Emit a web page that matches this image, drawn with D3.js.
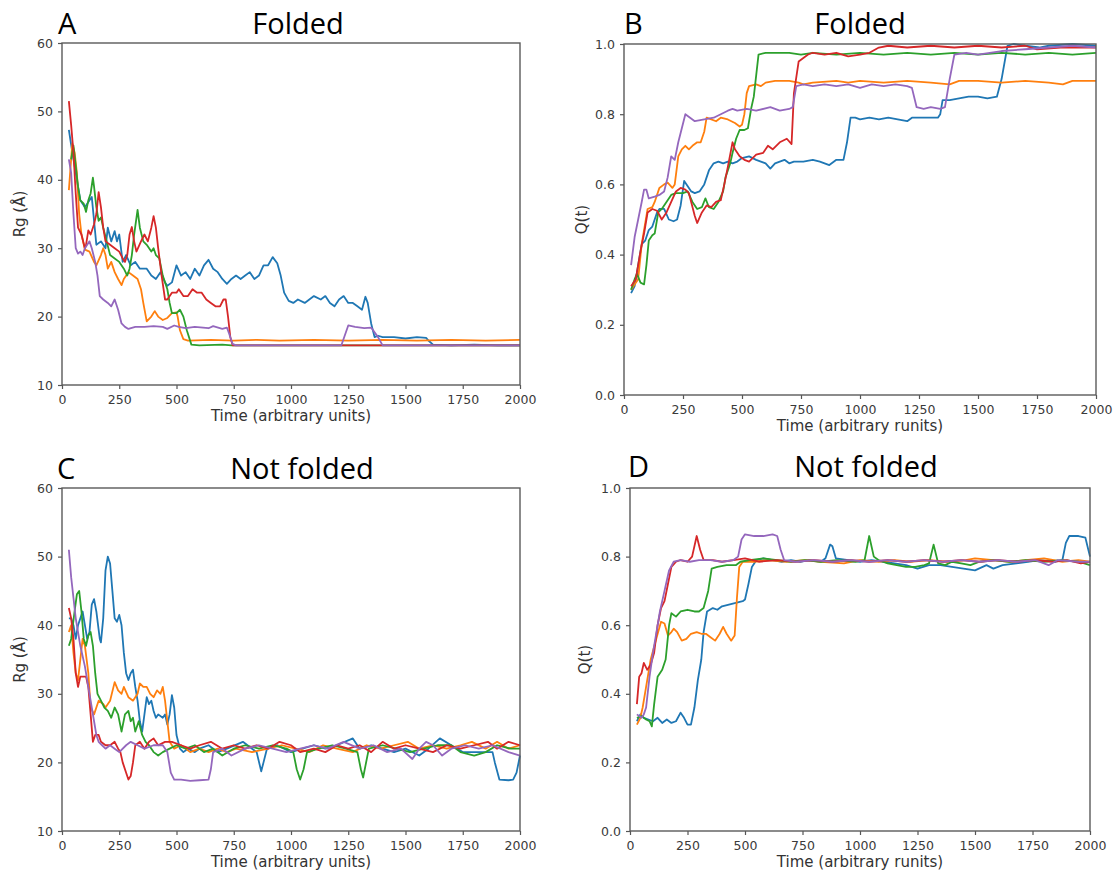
<!DOCTYPE html>
<html>
<head>
<meta charset="utf-8">
<script src="https://cdn.jsdelivr.net/npm/d3@7"></script>
<style>
  body { margin: 0; background: #fff; }
  .tick text { font-family: "DejaVu Sans", sans-serif; font-size: 12.5px; fill: #3a3a3a; }
  .tick line { stroke: #555; stroke-width: 1.2; }
  .domain { display: none; }
  .axis-label { font-family: "DejaVu Sans", sans-serif; font-size: 15px; fill: #333; }
  .panel-title { font-family: "Open Sans", "Noto Sans", sans-serif; font-size: 29px; fill: #000; }
  .line { fill: none; stroke-width: 1.8; stroke-linejoin: round; }
</style>
</head>
<body>
<div id="chart"></div>
<script>
// Window size
var svgWidth = 1115;
var svgHeight = 873;

// matplotlib "tab10" colours used for the five runs
var runColors = ["#1f77b4", "#ff7f0e", "#2ca02c", "#d62728", "#9467bd"];

// Axis ticks
var timeTicks = [0, 250, 500, 750, 1000, 1250, 1500, 1750, 2000];
var rgTicks = [10, 20, 30, 40, 50, 60];
var qTicks = [0.0, 0.2, 0.4, 0.6, 0.8, 1.0];

// ---------- Panel A: Rg, folded runs  [time, Rg] ----------
var foldedRgBlue = [[30,47.3],[45,44],[60,41],[80,37],[100,36],[120,37],[130,37.5],[150,30.5],[170,31],[190,30],[200,33],[215,31],[230,32.5],[240,31],[250,32],[265,28],[280,29],[300,27.5],[320,28],[340,27],[370,27],[390,26],[410,25.5],[430,26.5],[450,25],[460,24.5],[480,25],[500,27.5],[520,26],[540,26.5],[560,25.5],[580,27],[600,26],[620,27.5],[640,28.3],[660,27],[680,26.5],[700,25.5],[720,24.8],[740,25.5],[760,26],[780,25.5],[800,26],[820,26.5],[840,25.5],[860,26],[880,27.5],[900,27.5],[920,28.7],[940,27.8],[955,26],[970,23.5],[990,22.3],[1010,22],[1030,22.5],[1060,22],[1080,22.5],[1100,23],[1130,22.5],[1150,23],[1170,22],[1190,21.5],[1210,22.5],[1230,23],[1250,22],[1270,22],[1290,21.5],[1310,21],[1325,22.9],[1335,22],[1350,19],[1365,17],[1380,17.2],[1400,17],[1450,17],[1500,16.8],[1550,17],[1590,16.9],[1600,16.5],[1620,15.9],[1700,15.8],[1800,15.9],[1900,15.8],[2000,15.8]];
var foldedRgOrange = [[30,38.5],[45,45.3],[55,44],[65,41],[75,35],[85,32],[100,29.8],[120,29.5],[140,28],[150,27.5],[170,29],[180,30],[190,29],[200,27],[215,28],[230,26.5],[245,25.5],[260,24.6],[270,25.5],[290,26.5],[310,26],[330,25.5],[345,24],[355,22],[370,19.3],[390,20],[405,20.8],[420,20],[440,19.5],[460,19.8],[480,20.5],[500,20.6],[505,20],[515,18],[530,16.7],[550,16.5],[650,16.6],[750,16.5],[850,16.6],[950,16.5],[1100,16.6],[1250,16.5],[1400,16.6],[1550,16.5],[1700,16.6],[1850,16.5],[2000,16.6]];
var foldedRgGreen = [[40,43],[50,45],[60,42],[70,39],[80,37],[95,36.5],[105,35.3],[115,37],[125,38],[135,40.3],[140,39],[150,36],[160,34],[170,34.5],[180,33],[195,31],[210,29],[230,28.5],[250,28],[270,27],[285,26],[295,27],[305,29],[315,32],[330,35.6],[340,33],[355,31],[370,30.5],[390,29.5],[400,30],[410,29],[425,28.5],[440,26],[460,24],[470,22],[480,20.5],[500,20.5],[515,21],[530,20],[545,18],[565,15.9],[600,15.8],[700,15.9],[740,15.8],[900,15.8],[1200,15.8],[1500,15.8],[2000,15.8]];
var foldedRgRed = [[30,51.5],[40,48],[50,44],[60,38],[70,33],[85,32],[100,30],[105,30.5],[115,32.6],[125,32],[140,33.5],[150,35],[160,38.2],[170,36],[180,33],[190,31],[210,30.5],[230,30],[250,29.5],[265,28.5],[275,28],[285,29],[295,32],[305,33.1],[315,31],[325,29.5],[345,31],[360,32],[375,31],[390,33],[400,34.7],[410,33],[420,30],[435,26],[450,22.5],[460,22.5],[480,23.5],[500,23.5],[510,24],[530,23],[550,23],[570,24],[590,23.5],[610,23.5],[630,22.5],[650,22],[670,21.5],[690,21.5],[705,22.5],[715,22.5],[725,20],[735,17],[745,15.8],[900,15.8],[1200,15.8],[1500,15.8],[2000,15.8]];
var foldedRgPurple = [[30,43],[40,41],[50,35],[60,30],[70,29.2],[80,29.5],[90,29],[100,30],[110,30.5],[120,31],[130,30],[145,28],[155,26],[165,23],[180,22.5],[200,22],[215,21.5],[230,22.5],[245,21],[260,19],[275,18.5],[290,18.2],[320,18.5],[360,18.5],[400,18.6],[440,18.5],[460,18.2],[490,18.7],[510,18.5],[540,18.3],[580,18.5],[640,18.3],[660,18.6],[700,18.2],[720,18.4],[730,17.5],[745,16],[760,15.8],[1000,15.8],[1220,15.8],[1250,18.7],[1280,18.5],[1320,18.3],[1350,18.4],[1380,17],[1400,15.8],[1700,15.8],[2000,15.8]];

// ---------- Panel B: Q(t), folded runs ----------
var foldedQBlue = [[30,0.29],[45,0.31],[55,0.35],[75,0.43],[90,0.44],[105,0.47],[120,0.48],[140,0.52],[150,0.53],[170,0.53],[190,0.50],[210,0.495],[225,0.50],[240,0.54],[255,0.61],[265,0.60],[285,0.58],[300,0.575],[320,0.58],[340,0.60],[360,0.64],[380,0.66],[400,0.665],[420,0.66],[440,0.665],[460,0.66],[480,0.665],[500,0.675],[530,0.68],[560,0.67],[580,0.665],[600,0.66],[620,0.645],[640,0.66],[660,0.665],[680,0.67],[700,0.66],[720,0.665],[760,0.665],[800,0.67],[830,0.665],[870,0.655],[900,0.67],[930,0.67],[945,0.72],[960,0.79],[980,0.79],[1000,0.785],[1040,0.79],[1080,0.785],[1120,0.79],[1160,0.785],[1200,0.78],[1220,0.79],[1260,0.79],[1300,0.79],[1330,0.79],[1340,0.80],[1350,0.84],[1380,0.84],[1420,0.845],[1460,0.85],[1500,0.85],[1540,0.845],[1580,0.85],[1600,0.90],[1625,0.995],[1650,1.0],[1700,0.995],[1760,0.99],[1800,0.995],[1900,1.0],[2000,0.995]];
var foldedQOrange = [[30,0.30],[50,0.32],[60,0.33],[75,0.43],[100,0.53],[120,0.535],[130,0.55],[150,0.59],[170,0.60],[185,0.605],[205,0.59],[215,0.60],[230,0.68],[245,0.70],[260,0.71],[275,0.70],[290,0.71],[310,0.72],[325,0.72],[340,0.75],[350,0.79],[370,0.785],[390,0.78],[410,0.79],[440,0.785],[470,0.775],[490,0.765],[500,0.77],[510,0.80],[520,0.86],[530,0.88],[560,0.885],[580,0.88],[600,0.89],[640,0.895],[700,0.895],[740,0.89],[760,0.885],[800,0.89],[900,0.895],[950,0.89],[1000,0.895],[1100,0.89],[1200,0.895],[1300,0.89],[1380,0.885],[1420,0.895],[1500,0.895],[1600,0.89],[1700,0.895],[1800,0.89],[1860,0.885],[1900,0.895],[2000,0.895]];
var foldedQGreen = [[30,0.30],[45,0.33],[55,0.345],[70,0.32],[85,0.315],[95,0.37],[105,0.44],[120,0.455],[130,0.46],[145,0.52],[160,0.53],[180,0.55],[200,0.57],[220,0.575],[250,0.575],[270,0.58],[290,0.55],[310,0.53],[330,0.535],[345,0.56],[360,0.535],[380,0.53],[400,0.55],[420,0.58],[430,0.62],[450,0.66],[460,0.69],[475,0.73],[490,0.755],[510,0.755],[525,0.76],[540,0.82],[550,0.85],[570,0.97],[600,0.975],[700,0.975],[750,0.97],[800,0.975],[900,0.97],[1000,0.975],[1100,0.97],[1200,0.975],[1300,0.97],[1400,0.975],[1500,0.97],[1600,0.975],[1700,0.97],[1800,0.975],[1900,0.97],[2000,0.975]];
var foldedQRed = [[30,0.31],[50,0.33],[70,0.41],[85,0.46],[100,0.52],[120,0.53],[140,0.525],[160,0.50],[180,0.52],[200,0.55],[220,0.58],[240,0.59],[260,0.585],[275,0.575],[300,0.51],[310,0.49],[330,0.52],[350,0.54],[370,0.535],[390,0.55],[410,0.555],[425,0.60],[440,0.65],[460,0.72],[470,0.70],[490,0.68],[510,0.67],[530,0.665],[560,0.685],[590,0.69],[610,0.71],[630,0.70],[660,0.72],[690,0.73],[710,0.715],[720,0.86],[740,0.95],[760,0.96],[780,0.97],[800,0.975],[850,0.97],[900,0.975],[950,0.965],[1000,0.97],[1040,0.975],[1080,0.99],[1120,0.995],[1200,0.99],[1300,0.995],[1400,0.99],[1500,0.995],[1600,0.99],[1700,0.995],[1750,0.985],[1850,0.99],[2000,0.99]];
var foldedQPurple = [[30,0.37],[45,0.45],[60,0.50],[75,0.55],[85,0.585],[95,0.585],[105,0.56],[130,0.565],[150,0.57],[170,0.58],[185,0.62],[200,0.68],[215,0.67],[230,0.72],[245,0.76],[260,0.80],[280,0.79],[300,0.78],[340,0.785],[380,0.79],[410,0.80],[440,0.81],[460,0.815],[480,0.81],[520,0.815],[560,0.81],[620,0.82],[660,0.81],[700,0.815],[715,0.82],[730,0.88],[760,0.885],[800,0.88],[850,0.885],[900,0.88],[950,0.885],[1000,0.875],[1050,0.885],[1100,0.88],[1150,0.885],[1200,0.88],[1220,0.875],[1240,0.82],[1270,0.815],[1300,0.82],[1340,0.815],[1360,0.82],[1380,0.90],[1400,0.97],[1450,0.975],[1500,0.97],[1550,0.975],[1600,0.98],[1700,0.985],[1800,0.99],[1900,0.995],[2000,0.99]];

// ---------- Panel C: Rg, runs that did not fold ----------
var unfoldedRgBlue = [[30,41],[40,41],[50,40],[60,38],[70,40],[80,41],[90,42],[100,40],[110,38],[120,39],[130,43],[140,43.8],[150,42],[165,38],[170,37.5],[180,41],[190,48],[200,50],[210,49],[220,45],[230,41],[240,40.5],[250,41.5],[260,40],[270,36],[280,33],[290,32],[300,33],[310,33.5],[320,31],[330,29],[340,26],[350,24.5],[360,27],[370,29.5],[380,28.5],[390,29],[400,27.5],[410,26.5],[420,27],[440,26.5],[450,27],[460,25.5],[470,27],[480,29.8],[490,28],[500,24],[515,22],[530,21.5],[550,22],[580,21.5],[600,22],[640,22.5],[680,21.5],[720,22],[790,23],[830,22],[850,21.5],[870,18.7],[880,20],[895,22],[940,22.5],[1000,21.5],[1050,22],[1100,22.5],[1150,22],[1200,22.5],[1270,23.5],[1300,22],[1350,22.5],[1400,22],[1450,21.5],[1500,22],[1560,21],[1600,22],[1650,23.5],[1700,22.5],[1750,21.5],[1800,21.5],[1880,21.5],[1890,20],[1910,17.5],[1950,17.4],[1970,17.5],[1985,18.5],[2000,21]];
var unfoldedRgOrange = [[30,39],[40,40],[50,36],[60,33],[70,32],[80,35],[90,38],[100,37],[115,33],[125,28],[140,27],[150,28],[160,29],[180,28.5],[190,28],[210,29],[230,31.7],[245,30.5],[260,30],[270,31],[290,29.5],[310,29],[330,30],[340,31.5],[355,31],[370,31],[385,30],[400,29.5],[415,30.5],[430,30],[440,31],[450,29],[460,26],[470,23],[490,22],[520,22.5],[560,21.5],[600,22],[640,21.5],[680,22],[720,21.5],[760,22],[830,21.5],[900,22],[960,22.5],[1020,22],[1080,21.5],[1140,22.5],[1200,22],[1270,21.5],[1330,22.5],[1390,22],[1450,22.5],[1510,23],[1560,22],[1620,22.5],[1680,22],[1740,22.5],[1790,23],[1850,22],[1900,23],[1950,22],[2000,22.5]];
var unfoldedRgGreen = [[30,37],[40,38],[55,42],[65,44.5],[75,45],[85,42],[95,38],[105,37],[115,38.5],[125,39],[135,37],[145,33],[155,30],[170,29],[185,28],[200,27.5],[215,26.5],[230,28],[245,27],[260,24.5],[275,27],[290,27.5],[300,26],[310,26.5],[320,24.5],[335,26],[350,24],[365,23],[380,22.5],[400,21.5],[420,21],[440,21.5],[470,22],[500,22.5],[540,22],[580,22.5],[620,21.5],[660,22],[700,21],[750,22],[800,22.5],[860,22],[920,22.5],[980,22],[1010,21.5],[1025,19],[1040,17.5],[1055,19],[1070,21.5],[1120,22],[1180,22.5],[1240,22],[1290,21.5],[1305,19],[1315,17.8],[1325,19.5],[1340,22],[1400,22.5],[1460,22],[1520,21.5],[1580,22],[1640,22.5],[1700,22.5],[1740,21.5],[1800,21],[1850,21.5],[1900,22.5],[1960,22],[2000,22]];
var unfoldedRgRed = [[30,42.5],[40,41],[50,38],[60,33],[70,31],[80,32.5],[95,32.5],[105,32.5],[115,31],[125,27],[135,23],[145,24],[160,24],[170,23],[190,22.5],[210,22.5],[230,23],[245,22],[255,21.5],[265,20],[280,18.5],[290,17.5],[300,18],[310,20],[320,22.5],[340,23],[360,22],[380,23],[400,23.5],[420,22.5],[450,23],[480,23],[520,22.5],[560,22],[600,22.5],[650,23],[700,22],[750,22.5],[800,22],[850,22.5],[900,22],[950,23],[1000,22.5],[1040,21.5],[1100,22],[1150,21.5],[1200,22.5],[1250,22],[1300,22.5],[1350,21.5],[1400,23],[1450,22],[1500,22.5],[1560,22],[1620,21.5],[1680,22.5],[1740,22],[1800,22.5],[1860,23],[1900,22],[1950,23],[2000,22.5]];
var unfoldedRgPurple = [[30,51],[40,47],[50,44],[60,41],[70,39],[80,37],[100,34],[120,30],[140,26],[150,24],[160,23],[175,22.5],[190,22],[210,22.5],[230,22],[250,21.5],[280,22.5],[300,23],[330,22.5],[360,22],[400,22.5],[440,22.5],[460,21.5],[475,18.5],[490,17.5],[520,17.5],[560,17.3],[600,17.4],[640,17.5],[650,19],[660,21.5],[700,22],[740,21],[800,22],[860,22.5],[920,22],[980,21.5],[1040,22],[1100,22.5],[1160,22],[1230,23],[1300,22],[1360,22.5],[1420,21.5],[1480,22],[1530,20.5],[1560,22],[1590,23],[1620,22.5],[1660,21],[1700,22],[1760,22.5],[1820,22],[1880,22.5],[1950,21.5],[2000,21]];

// ---------- Panel D: Q(t), runs that did not fold ----------
var unfoldedQBlue = [[30,0.32],[45,0.34],[60,0.33],[80,0.325],[100,0.32],[120,0.33],[140,0.315],[160,0.325],[180,0.315],[200,0.32],[220,0.345],[235,0.33],[250,0.31],[265,0.31],[280,0.36],[295,0.44],[310,0.50],[320,0.58],[335,0.64],[360,0.65],[380,0.645],[400,0.655],[430,0.66],[460,0.665],[490,0.67],[500,0.675],[515,0.72],[530,0.77],[550,0.79],[580,0.795],[620,0.79],[660,0.785],[700,0.79],[740,0.785],[780,0.79],[830,0.785],[850,0.795],[870,0.835],[880,0.83],[895,0.795],[950,0.79],[1000,0.785],[1050,0.79],[1100,0.785],[1150,0.78],[1200,0.775],[1250,0.765],[1300,0.775],[1350,0.775],[1400,0.77],[1450,0.765],[1500,0.76],[1550,0.775],[1580,0.765],[1620,0.775],[1680,0.78],[1730,0.785],[1780,0.79],[1850,0.785],[1880,0.79],[1895,0.84],[1910,0.86],[1950,0.86],[1980,0.855],[2000,0.80]];
var unfoldedQOrange = [[30,0.31],[45,0.33],[55,0.36],[70,0.42],[90,0.50],[110,0.55],[135,0.61],[150,0.605],[165,0.57],[180,0.58],[190,0.59],[205,0.58],[225,0.555],[245,0.56],[265,0.575],[290,0.58],[310,0.575],[330,0.575],[350,0.565],[370,0.555],[390,0.575],[405,0.595],[420,0.575],[440,0.555],[455,0.57],[465,0.68],[475,0.77],[490,0.785],[540,0.785],[600,0.79],[680,0.785],[760,0.79],[830,0.785],[930,0.78],[1000,0.79],[1080,0.785],[1150,0.79],[1220,0.785],[1300,0.79],[1380,0.785],[1460,0.79],[1500,0.795],[1580,0.79],[1650,0.785],[1720,0.79],[1800,0.795],[1880,0.785],[1950,0.79],[2000,0.785]];
var unfoldedQGreen = [[30,0.33],[50,0.335],[70,0.325],[85,0.32],[95,0.305],[105,0.37],[120,0.45],[140,0.47],[155,0.50],[170,0.60],[180,0.635],[200,0.625],[220,0.64],[250,0.645],[280,0.64],[300,0.64],[320,0.65],[340,0.70],[355,0.765],[380,0.77],[420,0.775],[460,0.775],[480,0.785],[520,0.79],[580,0.795],[640,0.79],[700,0.785],[760,0.79],[830,0.785],[900,0.79],[980,0.785],[1020,0.79],[1040,0.86],[1060,0.80],[1080,0.79],[1120,0.78],[1160,0.775],[1200,0.77],[1240,0.77],[1280,0.775],[1300,0.78],[1320,0.835],[1340,0.78],[1370,0.775],[1400,0.785],[1440,0.78],[1480,0.775],[1520,0.785],[1580,0.79],[1650,0.785],[1720,0.79],[1800,0.785],[1880,0.79],[1950,0.785],[2000,0.775]];
var unfoldedQRed = [[30,0.37],[40,0.45],[50,0.46],[60,0.49],[75,0.47],[90,0.485],[105,0.52],[120,0.60],[135,0.65],[150,0.67],[165,0.72],[180,0.77],[200,0.785],[220,0.79],[250,0.785],[270,0.80],[290,0.86],[305,0.82],[320,0.79],[360,0.79],[400,0.785],[450,0.79],[500,0.795],[560,0.785],[640,0.79],[720,0.785],[800,0.79],[880,0.785],[960,0.79],[1040,0.785],[1120,0.79],[1200,0.785],[1280,0.79],[1360,0.785],[1440,0.79],[1520,0.785],[1600,0.79],[1680,0.785],[1760,0.79],[1840,0.785],[1900,0.79],[1960,0.78],[2000,0.785]];
var unfoldedQPurple = [[30,0.34],[50,0.33],[60,0.34],[70,0.36],[85,0.45],[100,0.52],[115,0.58],[130,0.64],[150,0.70],[170,0.76],[190,0.785],[220,0.79],[260,0.785],[300,0.79],[350,0.79],[400,0.785],[450,0.79],[470,0.80],[485,0.85],[500,0.865],[540,0.86],[580,0.86],[620,0.865],[640,0.86],[655,0.82],[670,0.79],[720,0.785],[800,0.79],[880,0.785],[960,0.79],[1040,0.785],[1120,0.79],[1200,0.785],[1280,0.79],[1360,0.785],[1440,0.79],[1520,0.785],[1600,0.79],[1680,0.785],[1760,0.79],[1820,0.775],[1860,0.79],[1950,0.785],[2000,0.785]];

// Panel layout (pixel box of each plot area) and texts
var panels = [
  { letter: "A", title: "Folded", box: [62, 43, 520, 385], yDomain: [10, 60], yTicks: rgTicks, yFmt: d3.format("d"),
    yLabel: "Rg (Å)", xLabel: "Time (arbitrary units)", yLabelX: 20, letterX: 58, titleX: 298, titleY: 34,
    series: [foldedRgBlue, foldedRgOrange, foldedRgGreen, foldedRgRed, foldedRgPurple] },
  { letter: "B", title: "Folded", box: [624, 44, 1096, 395], yDomain: [0, 1], yTicks: qTicks, yFmt: d3.format(".1f"),
    yLabel: "Q(t)", xLabel: "Time (arbitrary runits)", yLabelX: 582, letterX: 624, titleX: 860, titleY: 34,
    series: [foldedQBlue, foldedQOrange, foldedQGreen, foldedQRed, foldedQPurple] },
  { letter: "C", title: "Not folded", box: [62, 488, 520, 831], yDomain: [10, 60], yTicks: rgTicks, yFmt: d3.format("d"),
    yLabel: "Rg (Å)", xLabel: "Time (arbitrary units)", yLabelX: 20, letterX: 57, titleX: 302, titleY: 479,
    series: [unfoldedRgBlue, unfoldedRgOrange, unfoldedRgGreen, unfoldedRgRed, unfoldedRgPurple] },
  { letter: "D", title: "Not folded", box: [630, 488, 1090, 831], yDomain: [0, 1], yTicks: qTicks, yFmt: d3.format(".1f"),
    yLabel: "Q(t)", xLabel: "Time (arbitrary runits)", yLabelX: 585, letterX: 628, titleX: 866, titleY: 477,
    series: [unfoldedQBlue, unfoldedQOrange, unfoldedQGreen, unfoldedQRed, unfoldedQPurple] }
];

var svg = d3.select("#chart")
  .append("svg")
  .attr("width", svgWidth)
  .attr("height", svgHeight);

panels.forEach(function(p) {
  var x0 = p.box[0], y0 = p.box[1], x1 = p.box[2], y1 = p.box[3];

  var xScale = d3.scaleLinear().domain([0, 2000]).range([x0, x1]);
  var yScale = d3.scaleLinear().domain(p.yDomain).range([y1, y0]);

  // the runs
  var drawLine = d3.line()
    .x(d => xScale(d[0]))
    .y(d => yScale(d[1]));

  p.series.forEach(function(run, i) {
    svg.append("path")
      .attr("class", "line")
      .attr("d", drawLine(run))
      .attr("stroke", runColors[i]);
  });

  // axes
  svg.append("g")
    .attr("transform", `translate(0, ${y1})`)
    .call(d3.axisBottom(xScale).tickValues(timeTicks).tickSize(4).tickPadding(6).tickFormat(d3.format("d")));

  svg.append("g")
    .attr("transform", `translate(${x0}, 0)`)
    .call(d3.axisLeft(yScale).tickValues(p.yTicks).tickSize(4).tickPadding(5).tickFormat(p.yFmt));

  // frame
  svg.append("rect")
    .attr("x", x0).attr("y", y0)
    .attr("width", x1 - x0).attr("height", y1 - y0)
    .attr("fill", "none")
    .attr("stroke", "#5a5a5a")
    .attr("stroke-width", 1.4);

  // axis labels
  svg.append("text")
    .attr("class", "axis-label")
    .attr("x", (x0 + x1) / 2)
    .attr("y", y1 + 36)
    .attr("text-anchor", "middle")
    .text(p.xLabel);

  svg.append("text")
    .attr("class", "axis-label")
    .attr("transform", `translate(${p.yLabelX}, ${(y0 + y1) / 2}) rotate(-90)`)
    .attr("text-anchor", "middle")
    .attr("dy", "0.35em")
    .text(p.yLabel);

  // panel letter and title
  svg.append("text")
    .attr("class", "panel-title")
    .attr("x", p.letterX)
    .attr("y", p.titleY)
    .text(p.letter);

  svg.append("text")
    .attr("class", "panel-title")
    .attr("x", p.titleX)
    .attr("y", p.titleY)
    .attr("text-anchor", "middle")
    .text(p.title);
});
</script>
</body>
</html>
